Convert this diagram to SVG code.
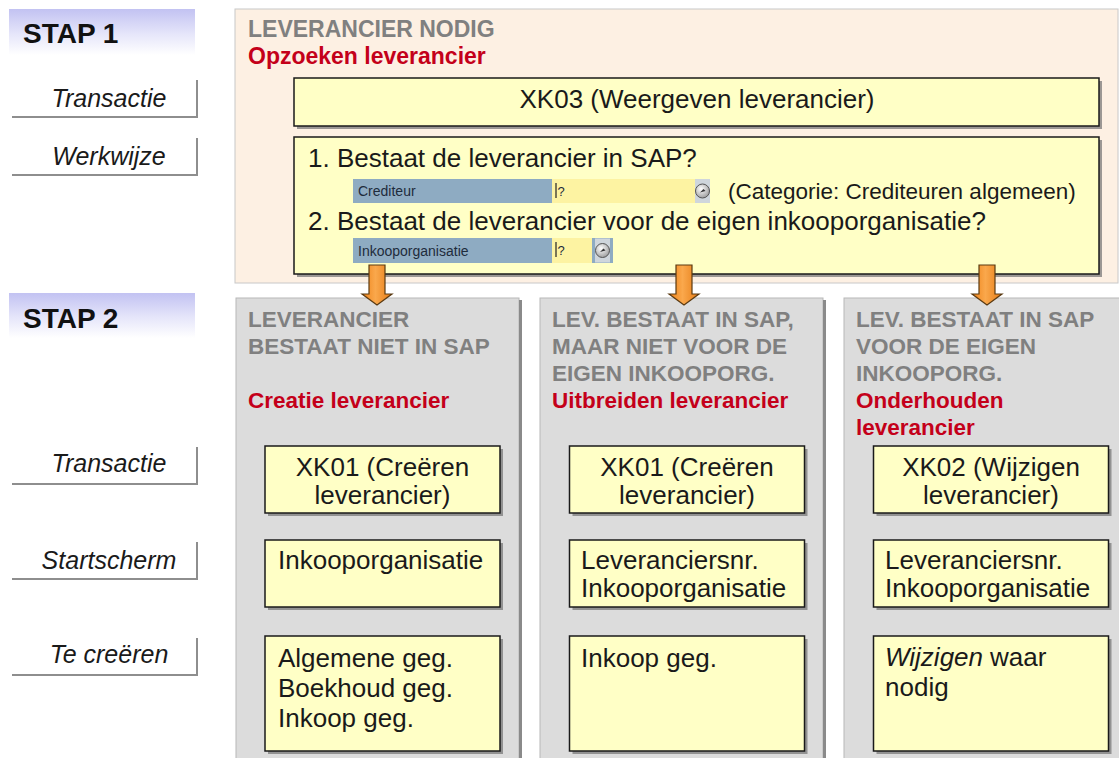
<svg xmlns="http://www.w3.org/2000/svg" width="1119" height="758" viewBox="0 0 1119 758">
<defs>
  <linearGradient id="stapGrad" x1="0" y1="0" x2="0" y2="1">
    <stop offset="0" stop-color="#c2c2f2"/>
    <stop offset="0.55" stop-color="#e6e6fa"/>
    <stop offset="1" stop-color="#ffffff"/>
  </linearGradient>
  <linearGradient id="arrowGrad" x1="0" y1="0" x2="1" y2="0">
    <stop offset="0" stop-color="#ee8218"/>
    <stop offset="0.45" stop-color="#faa84c"/>
    <stop offset="1" stop-color="#e67c16"/>
  </linearGradient>
  <radialGradient id="btnGrad" cx="0.4" cy="0.35" r="0.7">
    <stop offset="0" stop-color="#ffffff"/>
    <stop offset="1" stop-color="#9a9a9a"/>
  </radialGradient>
  <path id="arrow" d="M-8,0 H8 V29 H15 L0,40 L-15,29 H-8 Z"/>
  <g id="btn">
    <rect x="0" y="0" width="15" height="24" fill="#cfd6dc"/>
    <circle cx="7.5" cy="12" r="7" fill="url(#btnGrad)" stroke="#555" stroke-width="1"/>
    <path d="M5,13.5 L8.5,10 L10.5,12 Z" fill="#333"/>
  </g>
</defs>
<style>
  text { font-family: "Liberation Sans", Arial, sans-serif; }
  .stap { font-size: 28px; font-weight: bold; fill: #111; }
  .lbl { font-size: 25px; font-style: italic; fill: #1a1a1a; text-anchor: middle; }
  .lblline { stroke: #8e8e8e; stroke-width: 2; fill: none; }
  .head { font-size: 22.5px; font-weight: bold; fill: #808080; }
  .red { font-size: 22.5px; font-weight: bold; fill: #c4001a; }
  .box { fill: #ffffc6; stroke: #1a1a1a; stroke-width: 1.5; }
  .shadow { fill: #7a7a7a; opacity: 0.75; }
  .t { font-size: 26px; fill: #1a1a1a; }
  .tc { font-size: 26px; fill: #1a1a1a; text-anchor: middle; }
  .sap { fill: #8eabc2; }
  .inp { fill: #fdf3a2; }
  .sapt { font-size: 14px; fill: #1e2c3c; }
  .panel { fill: #dcdcdc; stroke: #b8b8b8; stroke-width: 1; }
  .pshadow { fill: #8a8a8a; }
  .arr { fill: url(#arrowGrad); stroke: #5a3a12; stroke-width: 1.2; }
</style>

<!-- Left column labels -->
<g id="stap1">
  <rect x="9" y="9" width="186" height="46" fill="url(#stapGrad)"/>
  <text class="stap" x="23" y="43">STAP 1</text>
</g>
<g id="label-transactie-1">
  <path class="lblline" d="M12,117 H197 V80"/>
  <text class="lbl" x="109" y="107">Transactie</text>
</g>
<g id="label-werkwijze">
  <path class="lblline" d="M12,175 H197 V138"/>
  <text class="lbl" x="109" y="165">Werkwijze</text>
</g>
<g id="stap2">
  <rect x="9" y="293" width="186" height="45" fill="url(#stapGrad)"/>
  <text class="stap" x="23" y="328">STAP 2</text>
</g>
<g id="label-transactie-2">
  <path class="lblline" d="M12,484 H197 V447"/>
  <text class="lbl" x="109" y="472">Transactie</text>
</g>
<g id="label-startscherm">
  <path class="lblline" d="M12,579 H197 V542"/>
  <text class="lbl" x="109" y="569">Startscherm</text>
</g>
<g id="label-tecreeren">
  <path class="lblline" d="M12,675 H197 V638"/>
  <text class="lbl" x="109" y="663">Te creëren</text>
</g>

<!-- STAP 1 panel -->
<g id="panel-stap1">
  <rect x="235" y="9" width="883" height="274" fill="#fdf0e3" stroke="#c8c8c8" stroke-width="1"/>
  <text class="head" x="248" y="37" style="font-size:23px">LEVERANCIER NODIG</text>
  <text class="red" x="248" y="64" style="font-size:23px">Opzoeken leverancier</text>
</g>
<g id="node-xk03">
  <rect class="shadow" x="297" y="81" width="805" height="48"/>
  <rect class="box" x="294" y="78" width="805" height="48"/>
  <text class="tc" x="697" y="108">XK03 (Weergeven leverancier)</text>
</g>
<g id="node-werkwijze">
  <rect class="shadow" x="297" y="140" width="805" height="137"/>
  <rect class="box" x="294" y="137" width="805" height="137"/>
  <text class="t" x="308" y="167">1. Bestaat de leverancier in SAP?</text>
  <rect class="sap" x="353" y="179" width="199" height="24"/>
  <text class="sapt" x="358" y="196">Crediteur</text>
  <rect class="inp" x="552" y="179" width="143" height="24"/>
  <line x1="556" y1="183" x2="556" y2="198" stroke="#222" stroke-width="1.2"/>
  <text class="sapt" x="557.5" y="196" style="font-size:13px">?</text>
  <use href="#btn" x="695" y="179"/>
  <text class="t" x="728" y="199" style="font-size:22.5px">(Categorie: Crediteuren algemeen)</text>
  <text class="t" x="308" y="230">2. Bestaat de leverancier voor de eigen inkooporganisatie?</text>
  <rect class="sap" x="353" y="238" width="199" height="25"/>
  <text class="sapt" x="358" y="256">Inkooporganisatie</text>
  <rect class="inp" x="552" y="238" width="40" height="25"/>
  <line x1="556" y1="242" x2="556" y2="257" stroke="#222" stroke-width="1.2"/>
  <text class="sapt" x="557.5" y="255" style="font-size:13px">?</text>
  <rect class="sap" x="592" y="238" width="21" height="25"/>
  <use href="#btn" x="595" y="238.5"/>
</g>

<!-- STAP 2 panels -->
<g id="panel-niet-in-sap">
  <rect class="panel" x="236" y="298" width="283" height="470"/>
  <rect class="pshadow" x="519" y="300" width="3" height="468"/>
  <text class="head" x="248" y="327">LEVERANCIER</text>
  <text class="head" x="248" y="354">BESTAAT NIET IN SAP</text>
  <text class="red" x="248" y="408">Creatie leverancier</text>
</g>
<g id="panel-niet-eigen">
  <rect class="panel" x="540" y="298" width="283" height="470"/>
  <rect class="pshadow" x="823" y="300" width="3" height="468"/>
  <text class="head" x="552" y="327">LEV. BESTAAT IN SAP,</text>
  <text class="head" x="552" y="354">MAAR NIET VOOR DE</text>
  <text class="head" x="552" y="381">EIGEN INKOOPORG.</text>
  <text class="red" x="552" y="408">Uitbreiden leverancier</text>
</g>
<g id="panel-eigen">
  <rect class="panel" x="844" y="298" width="283" height="470"/>
  <text class="head" x="856" y="327">LEV. BESTAAT IN SAP</text>
  <text class="head" x="856" y="354">VOOR DE EIGEN</text>
  <text class="head" x="856" y="381">INKOOPORG.</text>
  <text class="red" x="856" y="408">Onderhouden</text>
  <text class="red" x="856" y="435">leverancier</text>
</g>

<!-- Column 1 boxes -->
<g id="node-c1-transactie">
  <rect class="shadow" x="268" y="449" width="235" height="67"/>
  <rect class="box" x="265" y="446" width="235" height="67"/>
  <text class="tc" x="382.5" y="476">XK01 (Creëren</text>
  <text class="tc" x="382.5" y="504">leverancier)</text>
</g>
<g id="node-c1-start">
  <rect class="shadow" x="268" y="543" width="235" height="67"/>
  <rect class="box" x="265" y="540" width="235" height="67"/>
  <text class="t" x="278" y="569">Inkooporganisatie</text>
</g>
<g id="node-c1-creeren">
  <rect class="shadow" x="268" y="639" width="235" height="115"/>
  <rect class="box" x="265" y="636" width="235" height="115"/>
  <text class="t" x="278" y="667">Algemene geg.</text>
  <text class="t" x="278" y="697">Boekhoud geg.</text>
  <text class="t" x="278" y="727">Inkoop geg.</text>
</g>

<!-- Column 2 boxes -->
<g id="node-c2-transactie">
  <rect class="shadow" x="572.5" y="449" width="235" height="67"/>
  <rect class="box" x="569.5" y="446" width="235" height="67"/>
  <text class="tc" x="687" y="476">XK01 (Creëren</text>
  <text class="tc" x="687" y="504">leverancier)</text>
</g>
<g id="node-c2-start">
  <rect class="shadow" x="572.5" y="543" width="235" height="67"/>
  <rect class="box" x="569.5" y="540" width="235" height="67"/>
  <text class="t" x="581" y="569">Leveranciersnr.</text>
  <text class="t" x="581" y="597">Inkooporganisatie</text>
</g>
<g id="node-c2-creeren">
  <rect class="shadow" x="572.5" y="639" width="235" height="115"/>
  <rect class="box" x="569.5" y="636" width="235" height="115"/>
  <text class="t" x="581" y="667">Inkoop geg.</text>
</g>

<!-- Column 3 boxes -->
<g id="node-c3-transactie">
  <rect class="shadow" x="876.5" y="449" width="235" height="67"/>
  <rect class="box" x="873.5" y="446" width="235" height="67"/>
  <text class="tc" x="991" y="476">XK02 (Wijzigen</text>
  <text class="tc" x="991" y="504">leverancier)</text>
</g>
<g id="node-c3-start">
  <rect class="shadow" x="876.5" y="543" width="235" height="67"/>
  <rect class="box" x="873.5" y="540" width="235" height="67"/>
  <text class="t" x="885" y="569">Leveranciersnr.</text>
  <text class="t" x="885" y="597">Inkooporganisatie</text>
</g>
<g id="node-c3-creeren">
  <rect class="shadow" x="876.5" y="639" width="235" height="115"/>
  <rect class="box" x="873.5" y="636" width="235" height="115"/>
  <text class="t" x="885" y="666" font-style="italic">Wijzigen</text>
  <text class="t" x="990" y="666">waar</text>
  <text class="t" x="885" y="696">nodig</text>
</g>

<!-- Connectors -->
<g id="connectors">
  <use href="#arrow" class="arr" x="377" y="265"/>
  <use href="#arrow" class="arr" x="684" y="265"/>
  <use href="#arrow" class="arr" x="987" y="265"/>
</g>
</svg>
